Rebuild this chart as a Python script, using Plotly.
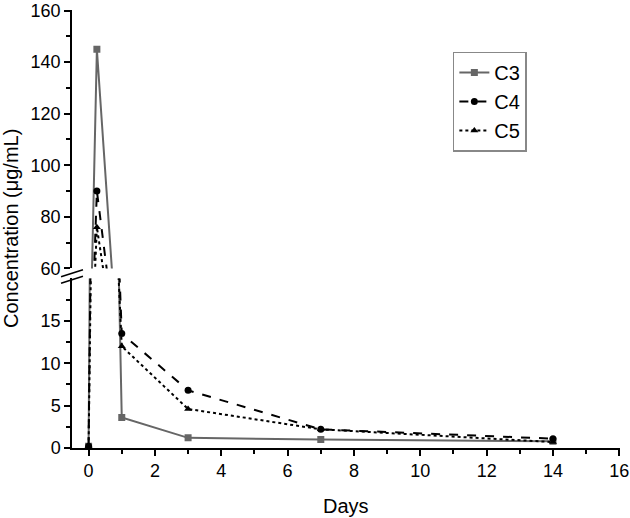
import plotly.graph_objects as go
from plotly.subplots import make_subplots

days = [0, 0.25, 1, 3, 7, 14]
c3 = [0.2, 145, 3.6, 1.2, 1.0, 0.8]
c4 = [0.2, 90, 13.5, 6.8, 2.2, 1.1]
c5 = [0.2, 76, 12.0, 4.6, 2.2, 0.7]

series = [
    ("C3", c3, "#666666", "solid", "square", 7),
    ("C4", c4, "black", "dash", "circle", 7),
    ("C5", c5, "black", "dot", "triangle-up", 7),
]

fig = make_subplots(rows=2, cols=1, shared_xaxes=True, vertical_spacing=0.023,
                    row_heights=[0.59, 0.387])

for name, vals, col, dash, sym, sz in series:
    for row in (1, 2):
        fig.add_trace(go.Scatter(
            x=days, y=vals, name=name, mode="lines+markers",
            line=dict(color=col, width=2, dash=dash),
            marker=dict(color=col, symbol=sym, size=sz),
            showlegend=(row == 1), legendgroup=name,
        ), row=row, col=1)

font = dict(family="Liberation Sans, Arial, sans-serif", color="black")
axis_common = dict(showline=True, linecolor="black", linewidth=1.5, ticks="outside",
                   tickcolor="black", tickwidth=1.5, ticklen=6, showgrid=False,
                   zeroline=False, automargin=False, ticklabeloverflow="allow",
                   tickfont=dict(size=18, **font))

fig.update_xaxes(range=[-0.5, 16.02], tickvals=list(range(0, 17, 2)), **axis_common,
                 minor=dict(ticks="outside", tickvals=list(range(1, 16, 2)), ticklen=4,
                            tickcolor="black", tickwidth=1.5))
fig.update_xaxes(showticklabels=False, showline=False, ticks="", minor=dict(ticks=""), row=1, col=1)

fig.update_yaxes(range=[60, 160.2], tickvals=[60, 80, 100, 120, 140, 160], row=1, col=1, **axis_common,
                 minor=dict(ticks="outside", tickvals=[70, 90, 110, 130, 150], ticklen=4,
                            tickcolor="black", tickwidth=1.5))
fig.update_yaxes(range=[0, 20], tickvals=[0, 5, 10, 15], row=2, col=1, **axis_common,
                 minor=dict(ticks="outside", tickvals=[2.5, 7.5, 12.5, 17.5], ticklen=4,
                            tickcolor="black", tickwidth=1.5))

fig.add_annotation(text="Concentration (μg/mL)", xref="paper", yref="paper", x=-0.135, y=0.5,
                   xanchor="left", textangle=-90, showarrow=False, font=dict(size=20, **font))
fig.add_annotation(text="Days", xref="paper", yref="paper", x=0.5, y=-0.103,
                   yanchor="top", showarrow=False, font=dict(size=20, **font))

# axis break marks
for y0 in (0.384, 0.399):
    fig.add_shape(type="line", xref="paper", yref="paper",
                  x0=-0.02, x1=0.02, y0=y0 - 0.008, y1=y0 + 0.008,
                  line=dict(color="black", width=1.5))
fig.add_shape(type="rect", xref="paper", yref="paper", x0=-0.005, x1=0.005,
              y0=0.389, y1=0.395, fillcolor="white", line=dict(width=0))

fig.update_layout(
    width=630, height=518,
    margin=dict(l=72, r=10, t=10, b=70),
    plot_bgcolor="white", paper_bgcolor="white",
    font=font,
    legend=dict(x=0.695, y=0.905, xanchor="left", yanchor="top",
                bordercolor="#888888", borderwidth=1.5, bgcolor="white",
                font=dict(size=20, **font), tracegroupgap=0),
)

fig.write_html("out.html", config={"displayModeBar": False},
               post_script="document.body.style.margin='0';")
